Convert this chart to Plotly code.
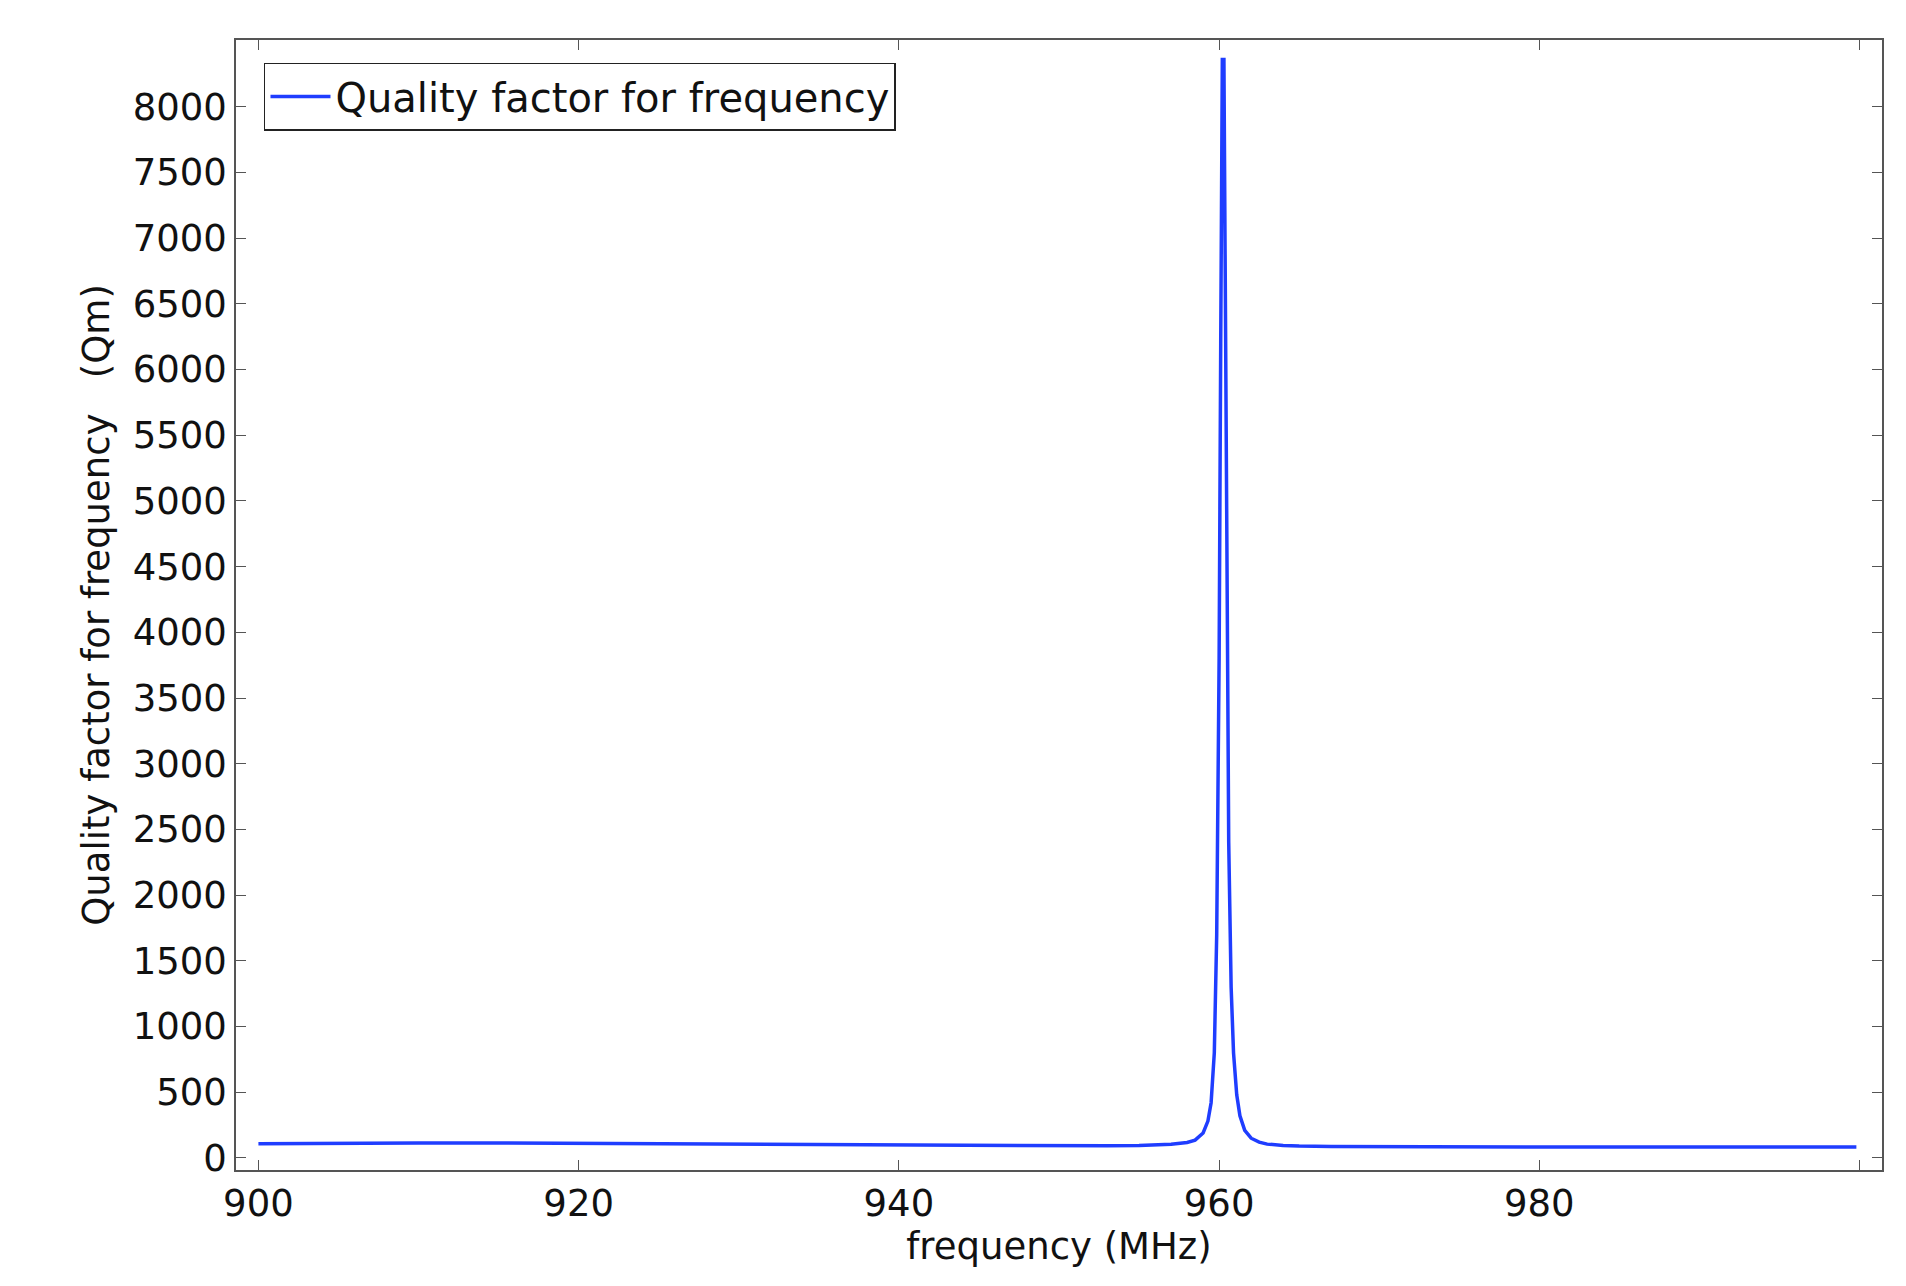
import plotly.graph_objects as go

freq = [900, 905, 910, 915, 920, 925, 930, 935, 940, 945, 950, 953, 955, 956, 957, 958, 958.5, 959, 959.3, 959.5, 959.7, 959.85, 960.0, 960.1, 960.2, 960.3, 960.4, 960.5, 960.6, 960.75, 960.9, 961.1, 961.3, 961.6, 962, 962.5, 963, 964, 965, 967, 970, 975, 980, 985, 990, 995, 999.8]
qm = [108, 112, 114, 113, 110, 106, 103, 100, 97, 94, 92, 92, 95, 98, 104, 118, 135, 190, 280, 420, 800, 1700, 3800, 6200, 8360, 8360, 6300, 4000, 2400, 1300, 800, 480, 320, 210, 150, 120, 105, 95, 90, 87, 85, 84, 83, 83, 83, 83, 83]

font = "DejaVu Sans"
fig = go.Figure()
fig.add_trace(go.Scatter(x=freq, y=qm, mode="lines", line=dict(color="#1f3dff", width=3.5, shape="linear"),
                         name="Quality factor for frequency"))
axcommon = dict(showgrid=False, zeroline=False, showline=True, linecolor="#555", linewidth=1.5, mirror="ticks",
                ticks="inside", ticklen=10, tickcolor="#555",
                tickfont=dict(family=font, size=37, color="#111"))
fig.update_xaxes(range=[898.6, 1001.4], tickvals=[900, 920, 940, 960, 980, 1000], ticktext=["900", "920", "940", "960", "980", ""],
                 title=dict(text="frequency (MHz)", font=dict(family=font, size=37, color="#111"), standoff=0), **axcommon)
fig.update_yaxes(range=[-92, 8508], tickvals=list(range(0, 8001, 500)),
                 title=dict(text="Quality factor for frequency   (Qm)", font=dict(family=font, size=37, color="#111"), standoff=12), **axcommon)
fig.update_layout(width=1906, height=1286, plot_bgcolor="white", paper_bgcolor="white",
                  margin=dict(l=228, r=32, t=32, b=124),
                  showlegend=True,
                  legend=dict(x=0.017, y=0.98, xanchor="left", yanchor="top", bgcolor="white",
                              bordercolor="#222", borderwidth=1.5, itemwidth=60,
                              font=dict(family=font, size=40, color="#111")))
fig.write_html("out.html")
